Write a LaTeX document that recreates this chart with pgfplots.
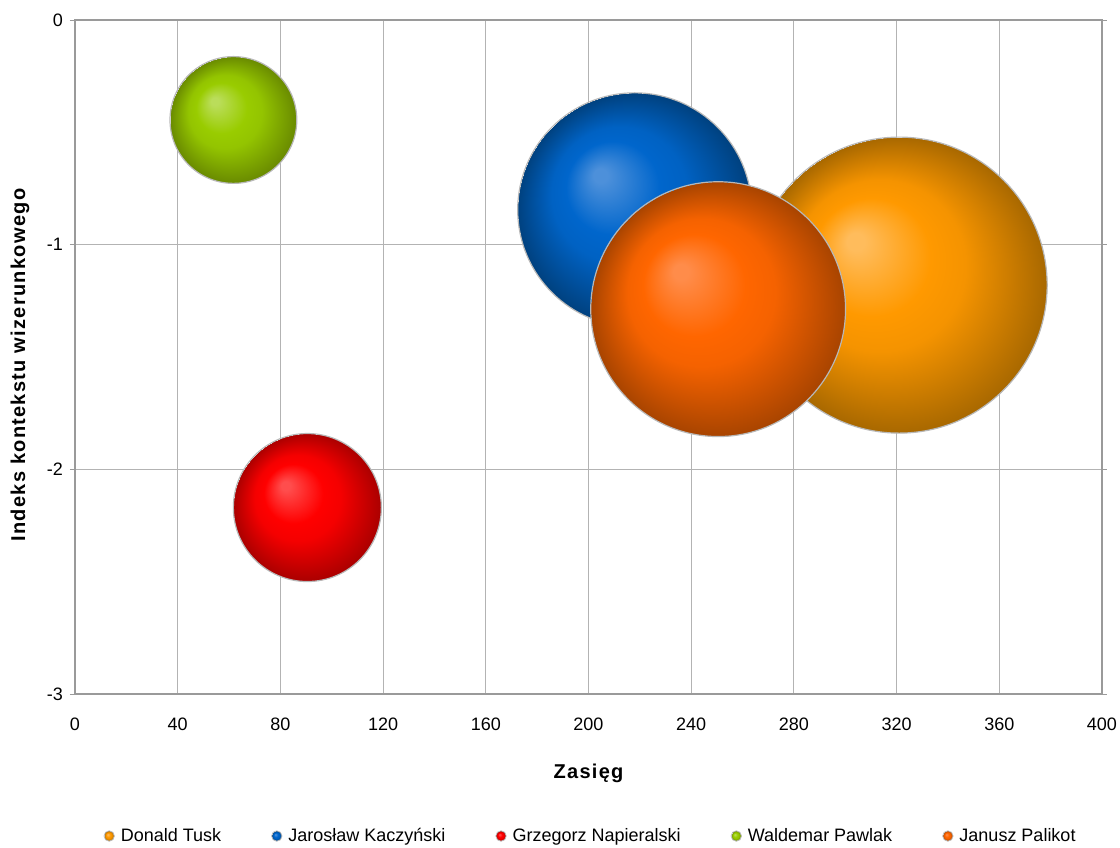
\documentclass[border=0pt]{standalone}
\usepackage{pgfplots}
\pgfplotsset{compat=1.18}
\usepackage{fontspec}
\setmainfont{Liberation Sans}

% palette: highlight, body and rim tone for each bubble
\definecolor{tuskhi}{HTML}{FFBC5C}
\definecolor{tuskmid}{HTML}{FF9900}
\definecolor{tuskdark}{HTML}{A86800}
\definecolor{kachi}{HTML}{4D90DA}
\definecolor{kamid}{HTML}{0066CC}
\definecolor{kadark}{HTML}{00417F}
\definecolor{naphi}{HTML}{FF4D4D}
\definecolor{napmid}{HTML}{FF0000}
\definecolor{napdark}{HTML}{AA0000}
\definecolor{pawhi}{HTML}{BADD5A}
\definecolor{pawmid}{HTML}{99CC00}
\definecolor{pawdark}{HTML}{698A00}
\definecolor{palhi}{HTML}{FF8C4A}
\definecolor{palmid}{HTML}{FF6600}
\definecolor{paldark}{HTML}{A84400}
\definecolor{bubbleedge}{HTML}{B8B8B8}
\definecolor{gridgray}{HTML}{B3B3B3}
\definecolor{axisgray}{HTML}{9A9A9A}

% off-centre radial shadings, light spot towards the upper left;
% the rim of the bubble sits at 25bp
\newcommand\ballshading[4]{%
  \pgfdeclareradialshading{#1}{\pgfpoint{-7.8bp}{7.8bp}}{%
    color(0bp)=(#2); color(1.5bp)=(#2); color(10bp)=(#3);
    color(14.5bp)=(#3!88!#4); color(25bp)=(#4)}}
\ballshading{tuskball}{tuskhi}{tuskmid}{tuskdark}
\ballshading{kaball}{kachi}{kamid}{kadark}
\ballshading{napball}{naphi}{napmid}{napdark}
\ballshading{pawball}{pawhi}{pawmid}{pawdark}
\ballshading{palball}{palhi}{palmid}{paldark}

% a shaded bubble mark with a thin grey rim
\newcommand\bubblemark[2]{%
  \pgfdeclareplotmark{#1}{%
    \pgfpathcircle{\pgfpointorigin}{\pgfplotmarksize}%
    \pgfshadepath{#2}{0}%
    \pgfpathcircle{\pgfpointorigin}{\pgfplotmarksize}%
    \pgfsetlinewidth{0.6pt}\pgfsetstrokecolor{bubbleedge}%
    \pgfusepath{stroke}}}
\bubblemark{tuskmark}{tuskball}
\bubblemark{kamark}{kaball}
\bubblemark{napmark}{napball}
\bubblemark{pawmark}{pawball}
\bubblemark{palmark}{palball}

\newcommand\legendball[1]{\shadedraw[shading=#1, draw=bubbleedge, line width=0.4pt] (0pt,0pt) circle (2.6pt);}

\begin{document}
\begin{tikzpicture}
\useasboundingbox (0,0) rectangle (560pt,423.5pt);
\begin{axis}[
  at={(37.5pt,76.5pt)}, anchor=south west,
  scale only axis, width=513.5pt, height=337pt,
  xmin=0, xmax=400, ymin=-3, ymax=0,
  xtick={0,40,...,400}, ytick={-3,-2,-1,0},
  grid=major,
  grid style={color=gridgray, line width=0.5pt},
  axis line style={color=axisgray, line width=0.7pt},
  tick align=outside, major tick length=2.5pt,
  ytick style={color=axisgray, line width=0.5pt},
  xtick style={draw=none},
  /pgf/number format/assume math mode=true,
  tick label style={font=\fontsize{9pt}{11pt}\selectfont, text=black},
  xticklabel style={yshift=-6pt},
  label style={font=\fontsize{10pt}{12pt}\selectfont\bfseries\addfontfeatures{LetterSpace=6.5}},
  xlabel={Zasięg},
  ylabel={Indeks kontekstu wizerunkowego},
  xlabel style={at={(axis description cs:0.5,-0.1172)}, anchor=center},
  ylabel style={at={(axis description cs:-0.0536,0.488)}, anchor=center},
  legend columns=5,
  legend style={at={(0.503,-0.2107)}, anchor=center, draw=none, fill=none,
    font=\fontsize{9pt}{11pt}\selectfont,
    /tikz/every odd column/.append style={column sep=1pt},
    /tikz/every even column/.append style={column sep=23pt}},
]
\addplot[only marks, mark=tuskmark, mark size=74pt,
  legend image code/.code={\legendball{tuskball}}]
  coordinates {(321,-1.18)};
\addlegendentry{Donald Tusk}
\addplot[only marks, mark=kamark, mark size=58.5pt,
  legend image code/.code={\legendball{kaball}}]
  coordinates {(218,-0.845)};
\addlegendentry{Jarosław Kaczyński}
\addplot[only marks, mark=napmark, mark size=37pt,
  legend image code/.code={\legendball{napball}}]
  coordinates {(90.5,-2.17)};
\addlegendentry{Grzegorz Napieralski}
\addplot[only marks, mark=pawmark, mark size=31.7pt,
  legend image code/.code={\legendball{pawball}}]
  coordinates {(61.7,-0.445)};
\addlegendentry{Waldemar Pawlak}
\addplot[only marks, mark=palmark, mark size=63.7pt,
  legend image code/.code={\legendball{palball}}]
  coordinates {(250.5,-1.287)};
\addlegendentry{Janusz Palikot}
\end{axis}
\end{tikzpicture}
\end{document}
